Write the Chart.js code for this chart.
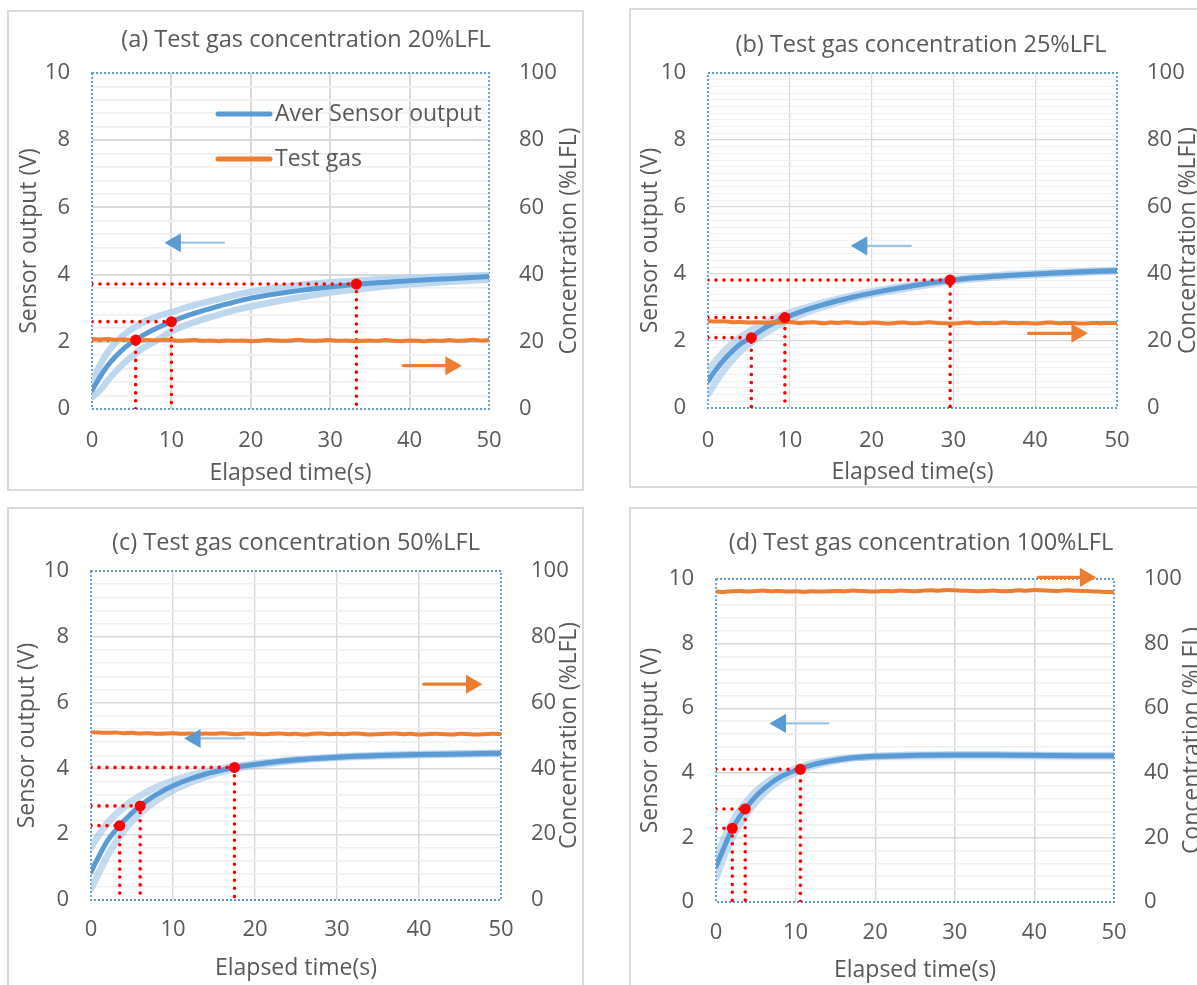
<!DOCTYPE html>
<html lang="en">
<head>
<meta charset="UTF-8" />
<meta name="viewport" content="width=device-width, initial-scale=1.0" />
<title>Sensor response to test gas</title>
<script src="https://cdn.jsdelivr.net/npm/chart.js@4.4.1/dist/chart.umd.min.js"></script>
<style>
  html, body { margin: 0; padding: 0; background: #fff; overflow: hidden; }
  body { width: 1197px; height: 985px; position: relative; }
  .card { position: absolute; border: 2px solid #d9d9d9; box-sizing: border-box; }
  canvas { position: absolute; }
</style>
</head>
<body>
<div class="card" style="left:7px;top:10px;width:577px;height:481px"></div>
<div class="card" style="left:629px;top:8px;width:600px;height:480px"></div>
<div class="card" style="left:7px;top:507px;width:577px;height:500px"></div>
<div class="card" style="left:629px;top:507px;width:600px;height:500px"></div>

<canvas id="chartA" width="600" height="476" style="left:9px;top:12px"></canvas>
<canvas id="chartB" width="600" height="476" style="left:631px;top:10px"></canvas>
<canvas id="chartC" width="600" height="476" style="left:9px;top:509px"></canvas>
<canvas id="chartD" width="600" height="476" style="left:631px;top:509px"></canvas>

<script>
// panel titles
const panelTitles = [
  '(a) Test gas concentration 20%LFL',
  '(b) Test gas concentration 25%LFL',
  '(c) Test gas concentration 50%LFL',
  '(d) Test gas concentration 100%LFL'
];

// sensor output sample times (s)
const sampleTime = [0, 1, 2, 3, 4, 5, 6, 7, 8, 10, 12, 14, 16, 18, 20, 25, 30, 35, 40, 45, 50];

// averaged sensor output (V) and the spread of the individual sensors
const outputA = [0.55, 0.95, 1.30, 1.57, 1.80, 1.98, 2.13, 2.27, 2.39, 2.60, 2.78, 2.93, 3.06, 3.19, 3.30, 3.49, 3.63, 3.74, 3.82, 3.88, 3.94];
const upperA  = [0.80, 1.30, 1.70, 1.98, 2.20, 2.38, 2.52, 2.64, 2.74, 2.88, 3.03, 3.16, 3.28, 3.39, 3.49, 3.66, 3.77, 3.85, 3.91, 3.95, 3.98];
const lowerA  = [0.35, 0.55, 0.85, 1.12, 1.36, 1.56, 1.74, 1.89, 2.02, 2.32, 2.51, 2.67, 2.81, 2.94, 3.05, 3.28, 3.47, 3.60, 3.71, 3.79, 3.85];

const outputB = [0.80, 1.15, 1.45, 1.70, 1.92, 2.06, 2.24, 2.40, 2.53, 2.75, 2.93, 3.08, 3.21, 3.33, 3.43, 3.65, 3.82, 3.93, 4.00, 4.06, 4.10];
const upperB  = [1.10, 1.42, 1.70, 1.93, 2.12, 2.28, 2.42, 2.55, 2.66, 2.85, 3.00, 3.14, 3.26, 3.37, 3.47, 3.67, 3.84, 3.95, 4.02, 4.07, 4.11];
const lowerB  = [0.42, 0.80, 1.15, 1.45, 1.70, 1.90, 2.08, 2.24, 2.39, 2.64, 2.85, 3.02, 3.16, 3.29, 3.39, 3.60, 3.79, 3.91, 3.98, 4.04, 4.09];

const outputC = [0.85, 1.35, 1.80, 2.12, 2.40, 2.65, 2.86, 3.05, 3.21, 3.47, 3.67, 3.83, 3.95, 4.05, 4.12, 4.26, 4.34, 4.39, 4.42, 4.44, 4.46];
const upperC  = [1.60, 2.00, 2.33, 2.60, 2.82, 3.01, 3.17, 3.31, 3.43, 3.62, 3.78, 3.90, 4.00, 4.08, 4.14, 4.27, 4.35, 4.40, 4.43, 4.45, 4.47];
const lowerC  = [0.35, 0.85, 1.35, 1.75, 2.10, 2.40, 2.64, 2.85, 3.03, 3.33, 3.56, 3.75, 3.90, 4.01, 4.09, 4.24, 4.33, 4.38, 4.41, 4.43, 4.45];

const outputD = [1.10, 1.68, 2.25, 2.65, 2.98, 3.27, 3.50, 3.70, 3.86, 4.08, 4.24, 4.35, 4.43, 4.48, 4.51, 4.54, 4.55, 4.55, 4.54, 4.53, 4.53];
const upperD  = [1.35, 1.95, 2.45, 2.85, 3.15, 3.42, 3.63, 3.80, 3.94, 4.13, 4.28, 4.38, 4.45, 4.49, 4.52, 4.55, 4.56, 4.56, 4.55, 4.54, 4.54];
const lowerD  = [0.75, 1.40, 1.98, 2.42, 2.78, 3.10, 3.36, 3.58, 3.76, 4.01, 4.20, 4.32, 4.41, 4.47, 4.50, 4.53, 4.54, 4.54, 4.53, 4.52, 4.52];

// test gas concentration (%LFL), one reading per second
const gasTime = [0, 1, 2, 3, 4, 5, 6, 7, 8, 9, 10, 11, 12, 13, 14, 15, 16, 17, 18, 19, 20, 21, 22, 23, 24, 25,
  26, 27, 28, 29, 30, 31, 32, 33, 34, 35, 36, 37, 38, 39, 40, 41, 42, 43, 44, 45, 46, 47, 48, 49, 50];
const gasA = [20.8, 20.7, 20.8, 20.6, 20.7, 20.5, 20.4, 20.5, 20.4, 20.6, 20.5, 20.3, 20.4, 20.5, 20.3, 20.4, 20.2,
  20.4, 20.3, 20.4, 20.2, 20.3, 20.5, 20.4, 20.3, 20.4, 20.6, 20.4, 20.3, 20.4, 20.5, 20.3, 20.4, 20.2, 20.3, 20.4,
  20.3, 20.5, 20.3, 20.2, 20.4, 20.3, 20.2, 20.4, 20.3, 20.5, 20.3, 20.4, 20.6, 20.4, 20.5];
const gasB = [26.0, 25.8, 25.9, 25.6, 25.7, 25.5, 25.6, 25.4, 25.6, 25.5, 25.7, 25.4, 25.5, 25.6, 25.3, 25.5, 25.4,
  25.6, 25.4, 25.3, 25.5, 25.4, 25.2, 25.4, 25.5, 25.3, 25.4, 25.6, 25.4, 25.3, 25.2, 25.4, 25.5, 25.3, 25.4, 25.3,
  25.5, 25.4, 25.3, 25.4, 25.2, 25.4, 25.5, 25.3, 25.4, 25.3, 25.2, 25.4, 25.3, 25.4, 25.3];
const gasC = [51.0, 50.9, 50.8, 50.9, 50.7, 50.8, 50.6, 50.7, 50.5, 50.6, 50.7, 50.5, 50.6, 50.4, 50.6, 50.5, 50.7,
  50.5, 50.4, 50.6, 50.5, 50.4, 50.5, 50.6, 50.4, 50.5, 50.3, 50.5, 50.6, 50.4, 50.5, 50.4, 50.6, 50.5, 50.3, 50.4,
  50.5, 50.6, 50.4, 50.5, 50.3, 50.4, 50.5, 50.4, 50.3, 50.5, 50.4, 50.3, 50.4, 50.5, 50.4];
const gasD = [96.1, 96.0, 96.2, 96.3, 96.1, 96.3, 96.4, 96.2, 96.3, 96.1, 96.2, 96.0, 96.2, 96.1, 96.2, 96.3, 96.2,
  96.4, 96.3, 96.2, 96.1, 96.3, 96.2, 96.4, 96.3, 96.2, 96.4, 96.5, 96.4, 96.6, 96.5, 96.4, 96.3, 96.2, 96.3, 96.4,
  96.2, 96.3, 96.5, 96.4, 96.6, 96.5, 96.4, 96.3, 96.5, 96.4, 96.3, 96.2, 96.1, 96.0, 95.9];

// response points picked off the averaged curve: time (s), output (V)
const markTimeA = [5.5, 10, 33.3];  const markVoltA = [2.05, 2.6, 3.72];
const markTimeB = [5.3, 9.4, 29.6]; const markVoltB = [2.10, 2.70, 3.82];
const markTimeC = [3.5, 6.0, 17.5]; const markVoltC = [2.26, 2.86, 4.03];
const markTimeD = [2.05, 3.67, 10.6]; const markVoltD = [2.28, 2.88, 4.11];

// axis pointers: [tail time, head time, level on the output axis]
const blueArrowA = [16.6, 10.5, 4.95]; const orangeArrowA = [39.2, 45.2, 1.29];
const blueArrowB = [24.8, 18.8, 4.84]; const orangeArrowB = [39.2, 45.1, 2.23];
const blueArrowC = [18.7, 12.7, 4.91]; const orangeArrowC = [40.6, 46.4, 6.56];
const blueArrowD = [14.1, 8.1, 5.53];  const orangeArrowD = [40.5, 46.4, 10.05];

const TICK_PX = 22, LABEL_PX = 23, HEAD_PX = 23.5;
const INK = '#595959', BLUE = '#5b9bd5', ORANGE = '#ed7d31', RED = '#ff0000';
const GRID = '#d9d9d9', GRID_MINOR = '#f0f0f0';

Chart.defaults.font.family = "'Open Sans', sans-serif";
Chart.defaults.color = INK;

const isMajor = v => Math.abs(v / 2 - Math.round(v / 2)) < 1e-6;
const isEdge = (v, max) => Math.abs(v) < 1e-6 || Math.abs(v - max) < 1e-6;

// dotted frame round the plot area
const plotFrame = {
  id: 'plotFrame',
  beforeDatasetsDraw(chart) {
    const {ctx, chartArea: a} = chart;
    ctx.save();
    ctx.strokeStyle = BLUE;
    ctx.lineWidth = 1.8;
    ctx.setLineDash([2, 2]);
    ctx.strokeRect(a.left, a.top, a.right - a.left, a.bottom - a.top);
    ctx.restore();
  }
};

// right axis title, read bottom to top like the left one
const sideTitle = {
  id: 'sideTitle',
  afterDraw(chart, args, o) {
    const {ctx, chartArea: a} = chart;
    ctx.save();
    ctx.translate(o.x, (a.top + a.bottom) / 2);
    ctx.rotate(-Math.PI / 2);
    ctx.font = LABEL_PX + "px 'Open Sans'";
    ctx.fillStyle = INK;
    ctx.textAlign = 'center';
    ctx.textBaseline = 'middle';
    ctx.fillText(o.text, 0, 0);
    ctx.restore();
  }
};

// legend sitting inside the plot area
const innerLegend = {
  id: 'innerLegend',
  afterDatasetsDraw(chart, args, o) {
    const {ctx} = chart;
    const items = chart.data.datasets.filter(d => d.inLegend);
    ctx.save();
    items.forEach((d, i) => {
      const y = o.y + i * o.gap;
      ctx.strokeStyle = d.borderColor;
      ctx.lineWidth = 5;
      ctx.lineCap = 'round';
      ctx.beginPath();
      ctx.moveTo(o.x, y);
      ctx.lineTo(o.x + 52, y);
      ctx.stroke();
      ctx.fillStyle = INK;
      ctx.font = LABEL_PX + "px 'Open Sans'";
      ctx.textAlign = 'left';
      ctx.textBaseline = 'middle';
      ctx.fillText(d.label, o.x + 57, y);
    });
    ctx.restore();
  }
};

const panels = [
  { id: 'chartA', title: panelTitles[0], frame: {x: 9, y: 12, w: 600, h: 476},
    plot: {l: 92, t: 73, r: 489, b: 409}, titleX: 306, titleY: 40, leftTitleX: 29, rightTitleX: 569,
    xTickY: 441, xTitleY: 473, minorStep: 0.4, gridW: 2, minorW: 1.8, bandW: 6.5, band: '#bdd7ee',
    output: outputA, upper: upperA, lower: lowerA, gas: gasA, markT: markTimeA, markV: markVoltA,
    blueArrow: blueArrowA, orangeArrow: orangeArrowA, legend: {x: 218, y: 114, gap: 45} },
  { id: 'chartB', title: panelTitles[1], frame: {x: 631, y: 10, w: 600, h: 476},
    plot: {l: 708, t: 73, r: 1117, b: 408}, titleX: 921, titleY: 45, leftTitleX: 650, rightTitleX: 1188,
    xTickY: 441, xTitleY: 472, minorStep: 0.2, gridW: 1.2, minorW: 1, bandW: 7, band: 'rgba(157,195,230,0.6)',
    output: outputB, upper: upperB, lower: lowerB, gas: gasB, markT: markTimeB, markV: markVoltB,
    blueArrow: blueArrowB, orangeArrow: orangeArrowB },
  { id: 'chartC', title: panelTitles[2], frame: {x: 9, y: 509, w: 600, h: 476},
    plot: {l: 91, t: 571, r: 501, b: 900}, titleX: 296, titleY: 543, leftTitleX: 27, rightTitleX: 569,
    xTickY: 930, xTitleY: 968, minorStep: 0.4, gridW: 1.4, minorW: 1.4, bandW: 7, band: 'rgba(157,195,230,0.6)',
    output: outputC, upper: upperC, lower: lowerC, gas: gasC, markT: markTimeC, markV: markVoltC,
    blueArrow: blueArrowC, orangeArrow: orangeArrowC },
  { id: 'chartD', title: panelTitles[3], frame: {x: 631, y: 509, w: 600, h: 476},
    plot: {l: 716, t: 579, r: 1114, b: 902}, titleX: 921, titleY: 543, leftTitleX: 650, rightTitleX: 1192,
    xTickY: 933, xTitleY: 970, minorStep: 0.4, gridW: 1.4, minorW: 1.4, bandW: 7, band: 'rgba(157,195,230,0.6)',
    output: outputD, upper: upperD, lower: lowerD, gas: gasD, markT: markTimeD, markV: markVoltD,
    blueArrow: blueArrowD, orangeArrow: orangeArrowD }
];

function curve(time, vals) {
  return time.map((t, i) => ({x: t, y: vals[i]}));
}

function arrow(a, shaft, head, width) {
  return {
    data: [{x: a[0], y: a[2]}, {x: a[1], y: a[2]}],
    borderColor: shaft, borderWidth: width, tension: 0,
    pointRadius: [0, 11], pointStyle: 'triangle', pointRotation: a[1] > a[0] ? 90 : 270,
    pointBackgroundColor: head, pointBorderWidth: 0, order: 0, clip: false
  };
}

// work out paddings and box sizes so the plot area lands where it should
function boxes(p) {
  const f = p.frame;
  const tH = HEAD_PX * 1.2, aH = LABEL_PX * 1.2, kH = TICK_PX * 1.2;
  const padL = p.leftTitleX - aH / 2 - f.x;
  const padR = f.w + padL - 2 * (p.titleX - f.x);
  const titleTop = p.titleY - tH / 2 - f.y;
  const titleBottom = p.plot.t - f.y - titleTop - tH;
  const xBottom = p.xTitleY + aH / 2;
  return {
    padL, padR, titleTop, titleBottom,
    leftW: p.plot.l - f.x - padL,
    rightW: f.x + f.w - padR - p.plot.r,
    tickPad: p.xTickY - p.plot.b - kH / 2,
    xH: xBottom - p.plot.b,
    padB: f.y + f.h - xBottom
  };
}

function drawPanel(p) {
  const L = boxes(p);
  const datasets = [
    {data: curve(sampleTime, p.upper), borderColor: p.band, borderWidth: p.bandW, order: 6},
    {data: curve(sampleTime, p.lower), borderColor: p.band, borderWidth: p.bandW, order: 6},
    {label: 'Aver Sensor output', inLegend: true, data: curve(sampleTime, p.output),
      borderColor: BLUE, borderWidth: 5, order: 4},
    {label: 'Test gas', inLegend: true, data: curve(gasTime, p.gas), yAxisID: 'y2',
      borderColor: ORANGE, borderWidth: 4, order: 2, cubicInterpolationMode: 'default', tension: 0.3}
  ];
  p.markT.forEach((t, i) => {
    const v = p.markV[i];
    datasets.push({
      data: [{x: 0, y: v}, {x: t, y: v}, {x: t, y: 0}],
      borderColor: RED, borderWidth: 3.6, borderDash: [0.01, 8], borderCapStyle: 'round',
      tension: 0, order: 3
    });
  });
  datasets.push({
    data: p.markT.map((t, i) => ({x: t, y: p.markV[i]})), showLine: false,
    pointRadius: 5.5, pointBackgroundColor: RED, pointBorderWidth: 0, order: 1
  });
  datasets.push(arrow(p.blueArrow, '#9dc3e6', BLUE, 2.2));
  datasets.push(arrow(p.orangeArrow, ORANGE, ORANGE, 3.2));

  const plugins = [plotFrame, sideTitle];
  if (p.legend) plugins.push(innerLegend);

  new Chart(document.getElementById(p.id), {
    type: 'line',
    data: {datasets},
    plugins,
    options: {
      responsive: false,
      animation: false,
      devicePixelRatio: 1,
      events: [],
      layout: {padding: {left: L.padL, right: L.padR, top: 0, bottom: L.padB}, autoPadding: false},
      datasets: {
        line: {pointRadius: 0, fill: false, cubicInterpolationMode: 'monotone',
          borderJoinStyle: 'round', borderCapStyle: 'round'}
      },
      plugins: {
        legend: {display: false},
        tooltip: {enabled: false},
        title: {display: true, text: p.title, color: INK,
          font: {size: HEAD_PX, weight: 'normal'},
          padding: {top: L.titleTop, bottom: L.titleBottom}},
        sideTitle: {text: 'Concentration (%LFL)', x: p.rightTitleX - p.frame.x},
        innerLegend: p.legend ? {x: p.legend.x - p.frame.x, y: p.legend.y - p.frame.y, gap: p.legend.gap} : {}
      },
      scales: {
        x: {
          type: 'linear', min: 0, max: 50,
          ticks: {stepSize: 10, padding: L.tickPad, font: {size: TICK_PX}, maxRotation: 0},
          grid: {drawTicks: false, lineWidth: p.gridW,
            color: c => isEdge(c.tick.value, 50) ? 'rgba(0,0,0,0)' : GRID},
          border: {display: false},
          title: {display: true, text: 'Elapsed time(s)', font: {size: LABEL_PX}, padding: 0},
          afterFit: s => { s.height = L.xH; }
        },
        y: {
          position: 'left', min: 0, max: 10,
          ticks: {stepSize: p.minorStep, autoSkip: false, padding: 22, font: {size: TICK_PX},
            callback: v => isMajor(v) ? String(Math.round(v)) : ''},
          grid: {drawTicks: false,
            color: c => isEdge(c.tick.value, 10) ? 'rgba(0,0,0,0)' : (isMajor(c.tick.value) ? GRID : GRID_MINOR),
            lineWidth: c => isMajor(c.tick.value) ? p.gridW : p.minorW},
          border: {display: false},
          title: {display: true, text: 'Sensor output (V)', font: {size: LABEL_PX}, padding: 0},
          afterFit: s => { s.width = L.leftW; }
        },
        y2: {
          position: 'right', min: 0, max: 100,
          ticks: {stepSize: 20, padding: 22, font: {size: TICK_PX}},
          grid: {display: false},
          border: {display: false},
          afterFit: s => { s.width = L.rightW; }
        }
      }
    }
  });
}

document.fonts.load(TICK_PX + "px 'Open Sans'").finally(() => panels.forEach(drawPanel));
</script>
</body>
</html>
